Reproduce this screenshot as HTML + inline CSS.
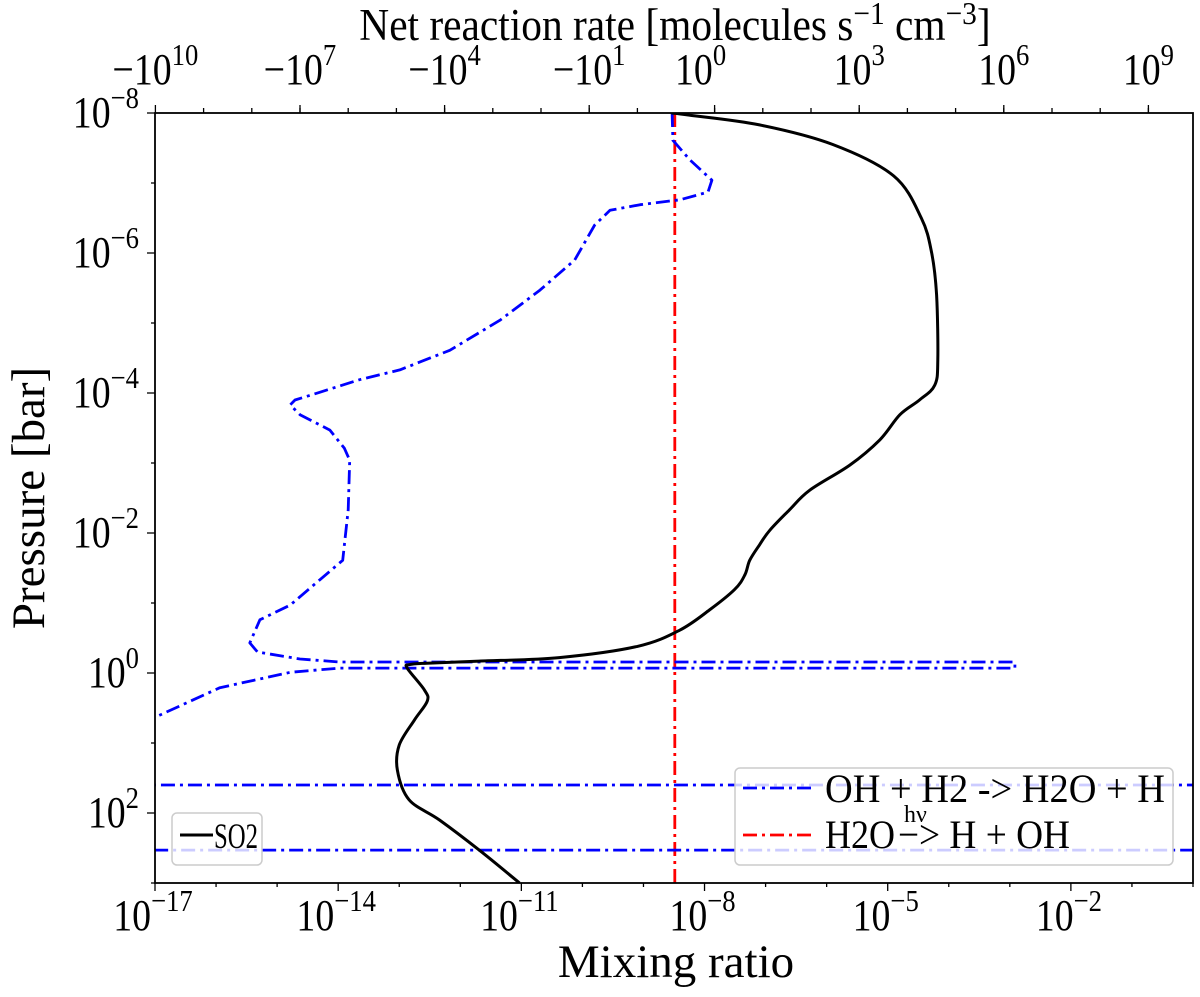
<!DOCTYPE html>
<html><head><meta charset="utf-8">
<style>
html,body{margin:0;padding:0;background:#fff;}
svg{display:block;font-family:"Liberation Serif","DejaVu Serif",serif;}
</style></head>
<body>
<svg id="chart" width="1200" height="997" viewBox="0 0 1200 997" xmlns="http://www.w3.org/2000/svg"></svg>
<script>
// ---- data (log10 values) ----
const so2LogMix = [-8.54,-8.25,-7.1,-5.9,-4.9,-4.45,-4.28,-4.2,-4.18,-4.23,-4.48,-4.8,-5.13,-5.62,-6.28,-6.61,-6.93,-7.1,-7.26,-7.34,-7.51,-7.92,-8.41,-9.1,-10.38,-11.69,-12.55,-12.83,-12.87,-12.59,-12.54,-12.75,-13.0,-13.03,-12.84,-12.34,-11.69,-11.03];
const so2LogP = [-8,-7.97,-7.83,-7.55,-7.1,-6.5,-6.0,-5.4,-4.47,-4.11,-3.9,-3.69,-3.33,-2.97,-2.61,-2.33,-2.04,-1.83,-1.61,-1.4,-1.19,-0.9,-0.61,-0.38,-0.22,-0.17,-0.14,-0.12,-0.07,0.24,0.4,0.67,1.03,1.39,1.81,2.1,2.53,3];
const ohRate = [-0.1,-0.08,0.36,0.93,0.83,0.1,-0.93,-3.7,-7.7,-20,-105,-710,-7800,-8.5e4,-5.8e5,-3.9e6,-1.27e7,-1.6e7,-1e7,-2.4e6,-1.2e6,-9.3e5,-1.0e6,-1.3e6,-3.9e6,-1.6e7,-6.8e7,-1.1e8,-7.6e7,-1e7,-1.5e6,1.7e6,1.7e6,-1.5e6,-1.6e7,-4.6e8,-1e10,-1e12,-1e12,1e12,1e12,-1e12];
const ohLogP = [-8,-7.61,-7.33,-7.04,-6.87,-6.76,-6.69,-6.61,-6.4,-5.9,-5.47,-5.04,-4.61,-4.33,-4.19,-4.01,-3.9,-3.83,-3.69,-3.47,-3.21,-3.04,-2.33,-1.61,-1.33,-0.97,-0.76,-0.43,-0.3,-0.2,-0.157,-0.157,-0.07,-0.07,-0.01,0.21,0.63,1.0,1.6,1.6,2.53,2.53];
const h2oRate = [-0.03,-0.03];
const h2oLogP = [-8,3];
const xTickExp = [-17,-14,-11,-8,-5,-2];
const yTickExp = [-8,-6,-4,-2,0,2];
const topTickVals = [-1e10,-1e7,-1e4,-1e1,1,1e3,1e6,1e9];
const topTickLabels = [["−10","10"],["−10","7"],["−10","4"],["−10","1"],["10","0"],["10","3"],["10","6"],["10","9"]];

// ---- axes ----
const L=155,R=1193,T=113,B=883;
const xMin=-17,xMax=0,yMin=-8,yMax=3;
function xs(lg){return L+(lg-xMin)/(xMax-xMin)*(R-L);}
function ys(lg){return T+(lg-yMin)/(yMax-yMin)*(B-T);}
const decPx=48.2, linHalf=38.6, zeroPx=676;
function xt(v){
  if(Math.abs(v)<=1) return zeroPx+v*linHalf;
  const d=Math.log10(Math.abs(v))*decPx+linHalf;
  return v>0?zeroPx+d:zeroPx-d;
}
const NS="http://www.w3.org/2000/svg";
const svg=document.getElementById('chart');
function mk(tag,attrs,parent){const e=document.createElementNS(NS,tag);for(const k in attrs)e.setAttribute(k,attrs[k]);(parent||svg).appendChild(e);return e;}

const defs=mk('defs',{});
const cp=mk('clipPath',{id:'clip'},defs);
mk('rect',{x:L,y:T,width:R-L,height:B-T},cp);

const plot=mk('g',{'clip-path':'url(#clip)'});



function pathD(xa,ya){return xa.map((x,i)=>(i?'L':'M')+x.toFixed(1)+' '+ya[i].toFixed(1)).join(' ');}
function smoothD(xa,ya){
  let d='M'+xa[0].toFixed(1)+' '+ya[0].toFixed(1);
  for(let i=0;i<xa.length-1;i++){
    const x0=xa[Math.max(i-1,0)],y0=ya[Math.max(i-1,0)],x1=xa[i],y1=ya[i],x2=xa[i+1],y2=ya[i+1],x3=xa[Math.min(i+2,xa.length-1)],y3=ya[Math.min(i+2,xa.length-1)];
    const c1x=x1+(x2-x0)/6,c1y=y1+(y2-y0)/6,c2x=x2-(x3-x1)/6,c2y=y2-(y3-y1)/6;
    d+=' C'+c1x.toFixed(1)+' '+c1y.toFixed(1)+' '+c2x.toFixed(1)+' '+c2y.toFixed(1)+' '+x2.toFixed(1)+' '+y2.toFixed(1);
  }
  return d;
}

const red=mk('path',{d:pathD(h2oRate.map(xt),h2oLogP.map(ys)),fill:'none',stroke:'#ff0000','stroke-width':2.8,'stroke-dasharray':'14 5 3 5'},plot);



const blue=mk('path',{d:pathD(ohRate.map(xt),ohLogP.map(ys)),fill:'none',stroke:'#0000ff','stroke-width':2.8,'stroke-dasharray':'14 5 3 5','stroke-linejoin':'round'},plot);



const blk=mk('path',{d:smoothD(so2LogMix.map(xs),so2LogP.map(ys)),fill:'none',stroke:'#000','stroke-width':3,'stroke-linejoin':'round'},plot);



const frame=mk('rect',{x:L,y:T,width:R-L,height:B-T,fill:'none',stroke:'#000','stroke-width':1.8});



function ctext(x,y,anchor,html,size,sx,name){
  const g=mk('g',{transform:'translate('+x+','+y+') scale('+sx+',1)'});
  const t=mk('text',{x:0,y:0,'font-size':size,'text-anchor':anchor},g);
  
  
  t.innerHTML=html;
  return t;
}
const TF=44, SF=31, SX=0.86;

for(let e=xMin;e<=xMax;e++){
  const x=xs(e), major=xTickExp.includes(e);
  mk('line',{x1:x,x2:x,y1:B,y2:B+(major?8:4),stroke:'#000','stroke-width':1.3});
}
xTickExp.forEach(e=>{
  ctext(xs(e)-2,930,'middle','10<tspan dy="-19" font-size="'+SF+'">−'+(-e)+'</tspan>',TF,SX,'x-tick-label');
});
for(let e=yMin;e<=yMax;e++){
  const y=ys(e), major=yTickExp.includes(e);
  mk('line',{x1:L,x2:L-(major?8:4),y1:y,y2:y,stroke:'#000','stroke-width':1.3});
}
yTickExp.forEach(e=>{
  ctext(139,ys(e)+14,'end','10<tspan dy="-19" font-size="'+SF+'">'+(e<0?'−'+(-e):e)+'</tspan>',TF,SX,'y-tick-label');
});
const minorTop=[];
for(let k=-10;k<=10;k++){ if(k!==0) minorTop.push(Math.sign(k)*Math.pow(10,Math.abs(k)-1)); }
minorTop.forEach(v=>{const x=xt(v); if(x>=L&&x<=R) mk('line',{x1:x,x2:x,y1:T,y2:T-5,stroke:'#000','stroke-width':1.3});});
topTickVals.forEach((v,i)=>{
  const x=xt(v);
  mk('line',{x1:x,x2:x,y1:T,y2:T-8,stroke:'#000','stroke-width':1.3});
  ctext(x+(i===4?-14:0),84,'middle',topTickLabels[i][0]+'<tspan dy="-19" font-size="'+SF+'">'+topTickLabels[i][1]+'</tspan>',TF,SX,'top-tick-label');
});

ctext(676,977,'middle','Mixing ratio',47,1,'x-axis-title');
ctext(675,40,'middle','Net reaction rate [molecules s<tspan dy="-16" font-size="32">−1</tspan><tspan dy="16"> cm</tspan><tspan dy="-16" font-size="32">−3</tspan><tspan dy="16">]</tspan>',45,0.92,'top-axis-title');
let gy=mk('g',{transform:'translate(44,498) rotate(-90)'});
let ty=mk('text',{x:0,y:0,'font-size':47,'text-anchor':'middle'},gy);


ty.textContent='Pressure [bar]';

// legends
const lg1=mk('g',{});


mk('rect',{x:172,y:813,width:90,height:52,rx:5,fill:'rgba(255,255,255,0.8)',stroke:'#ccc','stroke-width':1.5},lg1);
mk('line',{x1:180,x2:213,y1:835,y2:835,stroke:'#000','stroke-width':3},lg1);
let tt=mk('text',{x:214,y:848,'font-size':36,textLength:44,lengthAdjust:'spacingAndGlyphs'},lg1);


tt.textContent='SO2';

const lg2=mk('g',{});


mk('rect',{x:735,y:768,width:438,height:97,rx:5,fill:'rgba(255,255,255,0.8)',stroke:'#ccc','stroke-width':1.5},lg2);
mk('line',{x1:743,x2:812,y1:788,y2:788,stroke:'#0000ff','stroke-width':2.8,'stroke-dasharray':'14 5 3 5'},lg2);
tt=mk('text',{x:825,y:802,'font-size':40,textLength:340,lengthAdjust:'spacingAndGlyphs'},lg2);


tt.textContent='OH + H2 -> H2O + H';
mk('line',{x1:743,x2:812,y1:835,y2:835,stroke:'#ff0000','stroke-width':2.8,'stroke-dasharray':'14 5 3 5'},lg2);
tt=mk('text',{x:825,y:848,'font-size':40,textLength:70,lengthAdjust:'spacingAndGlyphs'},lg2);


tt.textContent='H2O';
tt=mk('text',{x:898,y:848,'font-size':40,textLength:172,lengthAdjust:'spacingAndGlyphs'},lg2);


tt.textContent='−> H + OH';
tt=mk('text',{x:904,y:822,'font-size':24},lg2);


tt.textContent='hν';
</script>
</body></html>
